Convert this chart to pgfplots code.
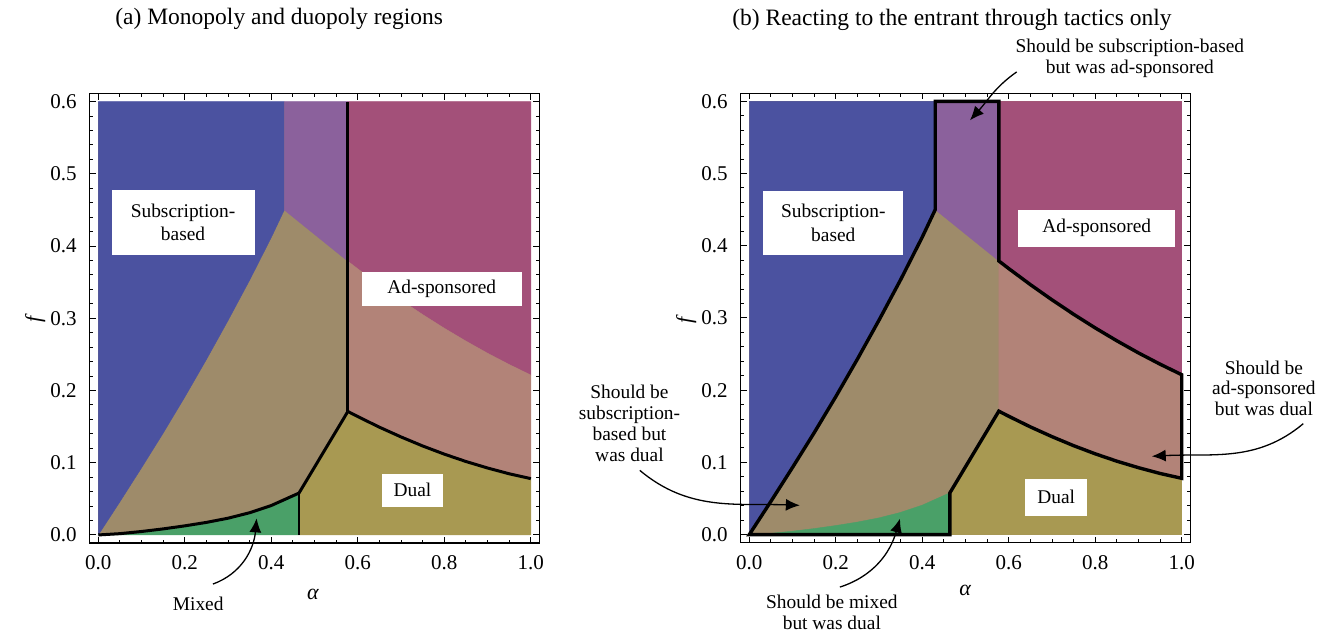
\documentclass[border=0pt]{standalone}
\usepackage{fontspec}
\setmainfont{Liberation Serif}
\usepackage{pgfplots}
\pgfplotsset{compat=1.18}
\usetikzlibrary{arrows.meta}
\definecolor{cblue}{RGB}{75,82,160}
\definecolor{cpurple}{RGB}{139,97,156}
\definecolor{cmag}{RGB}{163,80,121}
\definecolor{ctan}{RGB}{158,139,106}
\definecolor{cpink}{RGB}{178,131,120}
\definecolor{colive}{RGB}{168,153,82}
\definecolor{cgreen}{RGB}{74,160,104}
\newcommand{\boxfont}{\fontsize{9.7}{11.7}\selectfont}
\newcommand{\annfont}{\fontsize{9.7}{10.4}\selectfont}
\newcommand{\titlefont}{\fontsize{11.75}{13}\selectfont}
\tikzset{
  arr/.style={line width=0.65pt, -{Latex[length=7pt,width=6pt]}},
  lbl/.style={fill=white, inner sep=0pt, align=center, font=\boxfont},
}
\pgfplotsset{
  mystyle/.style={
    scale only axis, width=224.9pt, height=224.6pt,
    xmin=-0.02, xmax=1.02, ymin=-0.011, ymax=0.611,
    xtick={0,0.2,0.4,0.6,0.8,1}, xticklabels={0.0,0.2,0.4,0.6,0.8,1.0},
    ytick={0,0.1,0.2,0.3,0.4,0.5,0.6}, yticklabels={0.0,0.1,0.2,0.3,0.4,0.5,0.6},
    minor x tick num=3, minor y tick num=4,
    tick align=inside, major tick length=3pt, minor tick length=1.6pt,
    tick style={black, line width=0.5pt},
    axis line style={line width=0.7pt},
    tick label style={font=\fontsize{10.5}{12}\selectfont},
    xticklabel style={yshift=-3pt}, yticklabel style={xshift=-3pt},
    clip=false, anchor=south west,
  }
}
% curve data (alpha, f)
% B: subscription boundary; M: mixed boundary; D: dual boundary; A: ad-sponsored boundary
\begin{document}
\begin{tikzpicture}
\useasboundingbox (0,0) rectangle (662.5pt,318pt);
% ---------------- panel (a)
\begin{axis}[mystyle, at={(44.83pt,46.55pt)}]
\addplot[fill=ctan, draw=none] coordinates {(0,0) (1,0) (1,0.6) (0,0.6)} -- cycle;
\addplot[fill=cblue, draw=cblue, line width=0.2pt] coordinates {(0,0) (0.05,0.046) (0.1,0.093) (0.15,0.141) (0.2,0.191) (0.25,0.243) (0.3,0.297) (0.35,0.353) (0.4,0.412) (0.43,0.45) (0.43,0.6) (0,0.6)} -- cycle;
\addplot[fill=cpurple, draw=cpurple, line width=0.2pt] coordinates {(0.43,0.45) (0.43,0.6) (0.577,0.6) (0.577,0.379)} -- cycle;
\addplot[fill=cmag, draw=cmag, line width=0.2pt] coordinates {(0.577,0.379) (0.6,0.3684) (0.65,0.3462) (0.7,0.3251) (0.75,0.3051) (0.8,0.2862) (0.85,0.2684) (0.9,0.2516) (0.95,0.2360) (1.0,0.2214) (1,0.6) (0.577,0.6)} -- cycle;
\addplot[fill=cpink, draw=cpink, line width=0.2pt] coordinates {(0.577,0.379) (0.6,0.3684) (0.65,0.3462) (0.7,0.3251) (0.75,0.3051) (0.8,0.2862) (0.85,0.2684) (0.9,0.2516) (0.95,0.2360) (1.0,0.2214) (1,0.078) (0.95,0.0847) (0.9,0.0927) (0.85,0.1017) (0.8,0.1119) (0.75,0.1232) (0.7,0.1357) (0.65,0.1492) (0.6,0.1639) (0.577,0.171)} -- cycle;
\addplot[fill=colive, draw=colive, line width=0.2pt] coordinates {(0.464,0) (0.464,0.058) (0.577,0.171) (0.6,0.1639) (0.65,0.1492) (0.7,0.1357) (0.75,0.1232) (0.8,0.1119) (0.85,0.1017) (0.9,0.0927) (0.95,0.0847) (1,0.078) (1,0)} -- cycle;
\addplot[fill=cgreen, draw=cgreen, line width=0.2pt] coordinates {(0,0) (0.05,0.0018) (0.1,0.0048) (0.15,0.0084) (0.2,0.0126) (0.25,0.0174) (0.3,0.0232) (0.35,0.0308) (0.4,0.0408) (0.464,0.058) (0.464,0)} -- cycle;
% boundaries
\addplot[black, line width=1.5pt, line join=round] coordinates {(0,0) (0.05,0.0018) (0.1,0.0048) (0.15,0.0084) (0.2,0.0126) (0.25,0.0174) (0.3,0.0232) (0.35,0.0308) (0.4,0.0408) (0.464,0.058) (0.577,0.171)};
\addplot[black, line width=1.5pt] coordinates {(0.577,0.171) (0.577,0.6)};
\addplot[black, line width=1.5pt, line join=round] coordinates {(0.577,0.171) (0.6,0.1639) (0.65,0.1492) (0.7,0.1357) (0.75,0.1232) (0.8,0.1119) (0.85,0.1017) (0.9,0.0927) (0.95,0.0847) (1,0.078)};
\addplot[black, line width=0.9pt] coordinates {(0.464,0) (0.464,0.058)};
% labels
\node[lbl, minimum width=71.5pt, minimum height=32.5pt] at (axis cs:0.196,0.433) {Subscription-\\based};
\node[lbl, minimum width=80pt, minimum height=17.3pt] at (axis cs:0.794,0.3407) {Ad-sponsored};
\node[lbl, minimum width=30.2pt, minimum height=16.3pt] at (axis cs:0.7265,0.0619) {Dual};
\node[font=\annfont] at (axis cs:0.231,-0.0956) {Mixed};
\draw[arr] (axis cs:0.265,-0.068) to[out=20,in=-95] (axis cs:0.366,0.023);
\node[font=\fontsize{11}{12}\selectfont\itshape] at (axis cs:0.496,-0.083) {α};
\node[font=\fontsize{11}{12}\selectfont\itshape, rotate=90] at (axis cs:-0.146,0.298) {f};
\node[font=\titlefont, anchor=base west, inner sep=0pt] at (axis cs:0.0386,0.7064) {(a) Monopoly and duopoly regions};
\end{axis}
% ---------------- panel (b)
\begin{axis}[mystyle, at={(370.3pt,46.7pt)}]
\addplot[fill=ctan, draw=none] coordinates {(0,0) (1,0) (1,0.6) (0,0.6)} -- cycle;
\addplot[fill=cblue, draw=cblue, line width=0.2pt] coordinates {(0,0) (0.05,0.046) (0.1,0.093) (0.15,0.141) (0.2,0.191) (0.25,0.243) (0.3,0.297) (0.35,0.353) (0.4,0.412) (0.43,0.45) (0.43,0.6) (0,0.6)} -- cycle;
\addplot[fill=cpurple, draw=cpurple, line width=0.2pt] coordinates {(0.43,0.45) (0.43,0.6) (0.577,0.6) (0.577,0.379)} -- cycle;
\addplot[fill=cmag, draw=cmag, line width=0.2pt] coordinates {(0.577,0.379) (0.6,0.3684) (0.65,0.3462) (0.7,0.3251) (0.75,0.3051) (0.8,0.2862) (0.85,0.2684) (0.9,0.2516) (0.95,0.2360) (1.0,0.2214) (1,0.6) (0.577,0.6)} -- cycle;
\addplot[fill=cpink, draw=cpink, line width=0.2pt] coordinates {(0.577,0.379) (0.6,0.3684) (0.65,0.3462) (0.7,0.3251) (0.75,0.3051) (0.8,0.2862) (0.85,0.2684) (0.9,0.2516) (0.95,0.2360) (1.0,0.2214) (1,0.078) (0.95,0.0847) (0.9,0.0927) (0.85,0.1017) (0.8,0.1119) (0.75,0.1232) (0.7,0.1357) (0.65,0.1492) (0.6,0.1639) (0.577,0.171)} -- cycle;
\addplot[fill=colive, draw=colive, line width=0.2pt] coordinates {(0.464,0) (0.464,0.058) (0.577,0.171) (0.6,0.1639) (0.65,0.1492) (0.7,0.1357) (0.75,0.1232) (0.8,0.1119) (0.85,0.1017) (0.9,0.0927) (0.95,0.0847) (1,0.078) (1,0)} -- cycle;
\addplot[fill=cgreen, draw=cgreen, line width=0.2pt] coordinates {(0,0) (0.05,0.0018) (0.1,0.0048) (0.15,0.0084) (0.2,0.0126) (0.25,0.0174) (0.3,0.0232) (0.35,0.0308) (0.4,0.0408) (0.464,0.058) (0.464,0)} -- cycle;
% outline
\addplot[black, line width=1.7pt, line join=miter] coordinates {(0,0) (0.05,0.046) (0.1,0.093) (0.15,0.141) (0.2,0.191) (0.25,0.243) (0.3,0.297) (0.35,0.353) (0.4,0.412) (0.43,0.45) (0.43,0.6) (0.577,0.6) (0.577,0.379) (0.6,0.3684) (0.65,0.3462) (0.7,0.3251) (0.75,0.3051) (0.8,0.2862) (0.85,0.2684) (0.9,0.2516) (0.95,0.2360) (1.0,0.2214) (1,0.078) (0.95,0.0847) (0.9,0.0927) (0.85,0.1017) (0.8,0.1119) (0.75,0.1232) (0.7,0.1357) (0.65,0.1492) (0.6,0.1639) (0.577,0.171) (0.464,0.058) (0.464,0)} -- cycle;
% labels
\node[lbl, minimum width=70pt, minimum height=32pt] at (axis cs:0.1943,0.4317) {Subscription-\\based};
\node[lbl, minimum width=78.3pt, minimum height=18.7pt] at (axis cs:0.8034,0.4242) {Ad-sponsored};
\node[lbl, minimum width=31.2pt, minimum height=18.7pt] at (axis cs:0.7098,0.0517) {Dual};
\node[font=\annfont, align=center] at (axis cs:0.880,0.660) {Should be subscription-based\\but was ad-sponsored};
\draw[arr] (axis cs:0.6183,0.6407) to[out=-145,in=48] (axis cs:0.5104,0.5738);
\node[font=\annfont, align=center] at (axis cs:-0.277,0.154) {Should be\\subscription-\\based but\\was dual};
\draw[arr] (axis cs:-0.253,0.089) to[out=-40,in=178] (axis cs:0.117,0.0406);
\node[font=\annfont, align=center] at (axis cs:0.191,-0.1076) {Should be mixed\\but was dual};
\draw[arr] (axis cs:0.2096,-0.0726) to[out=18,in=-106] (axis cs:0.3485,0.0222);
\node[font=\annfont, align=center] at (axis cs:1.190,0.2026) {Should be\\ad-sponsored\\but was dual};
\draw[arr] (axis cs:1.281,0.1537) to[out=-140,in=3] (axis cs:0.9306,0.1085);
\node[font=\fontsize{11}{12}\selectfont\itshape] at (axis cs:0.499,-0.077) {α};
\node[font=\fontsize{11}{12}\selectfont\itshape, rotate=90] at (axis cs:-0.146,0.297) {f};
\node[font=\titlefont, anchor=base west, inner sep=0pt] at (axis cs:-0.040,0.7054) {(b) Reacting to the entrant through tactics only};
\end{axis}
\end{tikzpicture}
\end{document}
